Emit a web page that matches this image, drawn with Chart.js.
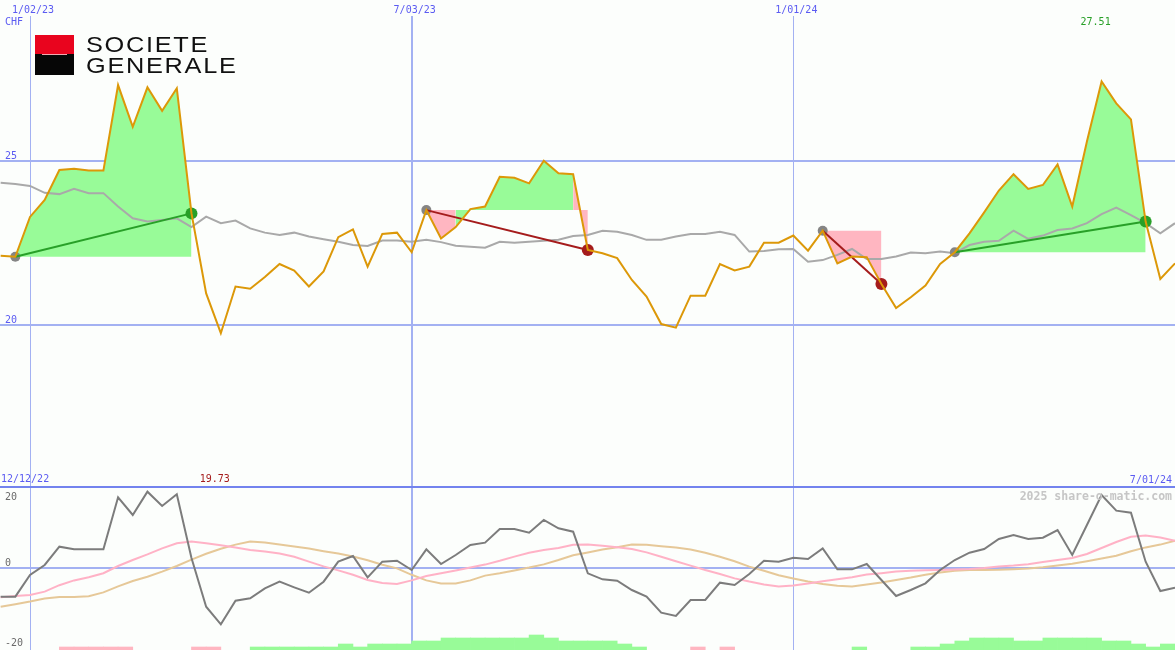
<!DOCTYPE html>
<html><head><meta charset="utf-8">
<script src="https://cdn.jsdelivr.net/npm/chart.js@4.4.1/dist/chart.umd.min.js"></script>
<style>
html,body{margin:0;padding:0;background:#fcfefc;}
#wrap{position:relative;width:1175px;height:650px;overflow:hidden;background:#fcfefc;}
#c{position:absolute;left:0;top:0;}
#logo{position:absolute;left:35px;top:35px;width:39px;height:40px;z-index:2;}
#logo .r{position:absolute;left:0;top:0;width:39px;height:19px;background:#e9041e;}
#logo .b{position:absolute;left:0;top:19px;width:39px;height:21px;background:#060606;}
#logo .l{position:absolute;left:7px;top:19px;width:25px;height:1px;background:#f2a8b0;}
.lt{position:absolute;left:86px;font-family:'Liberation Sans',Arial,sans-serif;font-size:22px;letter-spacing:1.5px;color:#111;line-height:22px;white-space:nowrap;z-index:2;transform:scaleX(1.15);transform-origin:0 0;}
</style>
</head><body>
<div id="wrap">
<canvas id="c" width="1175" height="650"></canvas>
<div id="logo"><div class="r"></div><div class="b"></div><div class="l"></div></div>
<div class="lt" style="top:34px">SOCIETE</div>
<div class="lt" style="top:55px">GENERALE</div>
</div>
<script>
// ---- data (weekly, index 0 = week of 12/19/22, index 80 = week of 7/01/24) ----
const price = [22.11,22.08,23.30,23.82,24.74,24.78,24.72,24.72,27.34,26.06,
27.27,26.55,27.24,23.41,20.96,19.74,21.17,21.10,21.46,21.86,
21.66,21.17,21.63,22.68,22.92,21.78,22.78,22.82,22.22,23.51,
22.64,22.99,23.54,23.62,24.53,24.50,24.33,25.02,24.64,24.61,
22.29,22.19,22.04,21.37,20.86,20.02,19.91,20.89,20.89,21.86,
21.66,21.78,22.51,22.51,22.73,22.27,22.88,21.88,22.09,22.07,
21.25,20.51,20.84,21.20,21.86,22.22,22.80,23.44,24.11,24.61,
24.16,24.28,24.91,23.62,25.61,27.45,26.78,26.29,23.16,21.40,21.88];
const avgLine = [24.35,24.31,24.25,24.04,24.00,24.16,24.03,24.03,23.62,23.26,
23.16,23.21,23.26,22.99,23.31,23.11,23.19,22.95,22.82,22.75,
22.82,22.70,22.62,22.54,22.44,22.41,22.58,22.58,22.54,22.60,
22.53,22.42,22.39,22.36,22.54,22.51,22.54,22.57,22.60,22.72,
22.75,22.88,22.85,22.75,22.60,22.60,22.70,22.78,22.78,22.85,
22.75,22.24,22.26,22.31,22.32,21.93,21.98,22.14,22.32,22.01,
22.01,22.09,22.21,22.19,22.24,22.19,22.44,22.54,22.57,22.88,
22.63,22.73,22.90,22.95,23.11,23.39,23.59,23.36,23.11,22.80,23.11];
const oscillator = [-7.17,-7.17,-1.75,0.75,5.33,4.67,4.67,4.67,17.67,13.25,
19.08,15.5,18.42,2.5,-9.67,-14.08,-8.17,-7.58,-5.08,-3.42,
-4.83,-6.17,-3.42,1.58,3.0,-2.33,1.58,1.83,-0.5,4.67,
1.0,3.25,5.75,6.33,9.75,9.75,8.83,12.0,9.92,9.08,
-1.33,-2.83,-3.17,-5.5,-7.17,-11.17,-12.0,-8.0,-8.0,-3.67,
-4.25,-1.5,1.83,1.58,2.58,2.25,4.92,-0.33,-0.33,1.0,
-3.0,-7.0,-5.5,-3.83,-0.5,2.0,3.83,4.75,7.25,8.25,
7.25,7.58,9.5,3.25,10.75,18.25,14.33,13.83,1.58,-5.75,-4.92];
const oscFast = [-7.3,-7.0,-6.75,-5.9,-4.3,-3.1,-2.3,-1.3,0.5,2.0,
3.4,4.9,6.2,6.6,6.2,5.7,5.1,4.5,4.1,3.6,
2.8,1.6,0.4,-0.6,-1.7,-3.0,-3.75,-4.0,-3.1,-2.0,
-1.3,-0.6,0.1,0.85,1.8,2.85,3.8,4.5,5.0,5.8,
5.85,5.55,5.2,4.75,3.9,2.8,1.7,0.6,-0.5,-1.5,
-2.6,-3.4,-4.1,-4.6,-4.4,-3.9,-3.3,-2.8,-2.3,-1.65,
-1.3,-0.9,-0.7,-0.55,-0.5,-0.4,-0.25,0.0,0.35,0.6,
0.95,1.5,2.0,2.5,3.5,5.0,6.5,7.8,8.1,7.6,6.8];
const oscSlow = [-9.7,-9.05,-8.4,-7.65,-7.25,-7.25,-7.05,-6.1,-4.6,-3.25,
-2.2,-0.9,0.5,2.1,3.55,4.8,5.85,6.6,6.35,5.9,
5.4,4.85,4.2,3.6,2.85,1.95,0.8,-0.1,-1.7,-3.1,
-3.9,-3.85,-3.1,-1.9,-1.3,-0.6,0.1,0.9,2.0,3.2,
3.9,4.6,5.2,5.9,5.8,5.45,5.1,4.6,3.8,2.8,
1.7,0.35,-0.7,-1.8,-2.6,-3.4,-4.0,-4.45,-4.6,-4.15,
-3.65,-3.0,-2.4,-1.7,-1.1,-0.7,-0.5,-0.5,-0.45,-0.3,
-0.1,0.2,0.6,1.05,1.7,2.4,3.05,4.2,5.15,5.85,6.8];
// histogram per week interval k (between week k and k+1), in lower-panel units
const histogram = [0,0,0,0,-0.75,-0.75,-0.75,-0.75,-0.75,0,
0,0,0,-0.75,-0.75,0,0,0.75,0.75,0.75,
0.75,0.75,0.75,1.5,0.75,1.5,1.5,1.5,2.25,2.25,
3,3,3,3,3,3,3.75,3,2.25,2.25,
2.25,2.25,1.5,0.75,0,0,0,-0.75,0,-0.75,
0,0,0,0,0,0,0,0,0.75,0,
0,0,0.75,0.75,1.5,2.25,3,3,3,2.25,
2.25,3,3,3,3,2.25,2.25,1.5,0.75,1.5];
// trades (week indices)
const tradeEntry = [1, 29, 56, 65];
const tradeExit  = [13, 40, 60, 78];
// axis / label data
const gridWeeks  = [2, 28, 54];
const gridLabels = ['1/02/23', '7/03/23', '1/01/24'];
const rangeLabels = ['12/12/22', '7/01/24'];
const topTicks = [20, 25];
const botTicks = [-20, 0, 20];
const unitLabel = 'CHF';
const hiLabel = '27.51';
const loLabel = '19.73';
const watermark = '2025 share-o-matic.com';

// ---- scales ----
const X_MIN = -0.044, X_MAX = 80.0;
const TOP_MIN = 15.03, TOP_MAX = 29.455;
const BOT_MIN = -20.5, BOT_MAX = 20.25;

const C_PRICE = '#dc9808', C_AVG = '#a9a9a9', C_GREEN_FILL = '#98fb98', C_PINK_FILL = '#ffb6c1';
const C_WIN = '#28a028', C_LOSS = '#a51c1c', C_MARK = '#858585';
const C_GRID = '#a3b1f2', C_SEP = '#7383ee', C_TXT = '#5b5bf2';
const C_OSC = '#7c7c7c', C_FAST = '#ffb2c6', C_SLOW = '#e6c898';

const pts = arr => arr.map((v, i) => ({x: i, y: v}));
const datasets = [];

datasets.push({
  type: 'bar', yAxisID: 'yBot', xAxisID: 'x', order: 30,
  data: histogram.map((h, k) => ({x: k + 0.5, y: [BOT_MIN, BOT_MIN + Math.abs(h)], h})).filter(d => d.h !== 0),
  backgroundColor: ctx => (ctx.raw && ctx.raw.h > 0) ? C_GREEN_FILL : C_PINK_FILL,
  borderWidth: 0, barPercentage: 1, categoryPercentage: 1, grouped: false
});

tradeEntry.forEach((e, n) => {
  const x = tradeExit[n], ev = price[e];
  datasets.push({
    type: 'line', yAxisID: 'yTop', order: 25,
    data: price.slice(e, x + 1).map((v, j) => ({x: e + j, y: v})),
    borderWidth: 0, borderColor: 'rgba(0,0,0,0)', pointRadius: 0,
    fill: {value: ev}, backgroundColor: C_GREEN_FILL,
    segment: {backgroundColor: c => c.p1.parsed.y >= ev ? C_GREEN_FILL : C_PINK_FILL}
  });
});

datasets.push({type: 'line', yAxisID: 'yTop', order: 20, data: pts(avgLine), borderColor: C_AVG, borderWidth: 2, pointRadius: 0, fill: false});

datasets.push({
  type: 'line', yAxisID: 'yTop', order: 18, showLine: false, fill: false,
  data: tradeEntry.map(e => ({x: e, y: price[e]})),
  pointRadius: 5, pointBackgroundColor: C_MARK, pointBorderWidth: 0
});
datasets.push({
  type: 'line', yAxisID: 'yTop', order: 17, showLine: false, fill: false,
  data: tradeExit.map(x => ({x, y: price[x]})),
  pointRadius: 6, pointBorderWidth: 0,
  pointBackgroundColor: tradeExit.map((x, n) => price[x] >= price[tradeEntry[n]] ? C_WIN : C_LOSS)
});
tradeEntry.forEach((e, n) => {
  const x = tradeExit[n];
  datasets.push({
    type: 'line', yAxisID: 'yTop', order: 16, fill: false, pointRadius: 0,
    data: [{x: e, y: price[e]}, {x, y: price[x]}],
    borderColor: price[x] >= price[e] ? C_WIN : C_LOSS, borderWidth: 2
  });
});
datasets.push({type: 'line', yAxisID: 'yTop', order: 10, data: pts(price), borderColor: C_PRICE, borderWidth: 2, pointRadius: 0, fill: false});

datasets.push({type: 'line', yAxisID: 'yBot', order: 9, data: pts(oscSlow), borderColor: C_SLOW, borderWidth: 2, pointRadius: 0, fill: false});
datasets.push({type: 'line', yAxisID: 'yBot', order: 8, data: pts(oscFast), borderColor: C_FAST, borderWidth: 2, pointRadius: 0, fill: false});
datasets.push({type: 'line', yAxisID: 'yBot', order: 7, data: pts(oscillator), borderColor: C_OSC, borderWidth: 2, pointRadius: 0, fill: false});

const FONT = '10px "DejaVu Sans Mono", monospace';
const labelPlugin = {
  id: 'labels',
  afterDraw(chart) {
    const {ctx} = chart;
    const sx = chart.scales.x, st = chart.scales.yTop, sb = chart.scales.yBot;
    ctx.save();
    ctx.font = FONT;
    ctx.textBaseline = 'alphabetic';
    ctx.fillStyle = C_TXT;
    ctx.textAlign = 'center';
    gridWeeks.forEach((w, k) => ctx.fillText(gridLabels[k], sx.getPixelForValue(w) + 3, st.top - 3));
    ctx.textAlign = 'left';
    ctx.fillText(unitLabel, 5, st.top + 9);
    topTicks.forEach(v => ctx.fillText(String(v), 5, st.getPixelForValue(v) - 2));
    ctx.fillText(rangeLabels[0], 1, sb.top - 5);
    ctx.textAlign = 'right';
    ctx.fillText(rangeLabels[1], sx.right - 3, sb.top - 4);
    // extremes
    const hiIdx = price.indexOf(Math.max(...price));
    const loIdx = price.indexOf(Math.min(...price));
    ctx.textAlign = 'center';
    ctx.fillStyle = C_WIN;
    ctx.fillText(hiLabel, sx.getPixelForValue(hiIdx) - 6, st.top + 9);
    ctx.fillStyle = C_LOSS;
    ctx.fillText(loLabel, sx.getPixelForValue(loIdx) - 6, sb.top - 5);
    // lower panel ticks
    ctx.textAlign = 'left';
    ctx.fillStyle = '#6a6a6a';
    botTicks.forEach(v => {
      const y = Math.min(Math.max(sb.getPixelForValue(v) - 2.5, sb.top + 13), sb.bottom - 4);
      ctx.fillText(String(v), 5, y);
    });
    ctx.font = 'bold 11.5px "DejaVu Sans Mono", monospace';
    ctx.fillStyle = '#c6c6c6';
    ctx.textAlign = 'right';
    ctx.fillText(watermark, sx.right - 3, sb.top + 13);
    ctx.restore();
  }
};

new Chart(document.getElementById('c'), {
  type: 'line',
  data: {datasets},
  options: {
    responsive: false, animation: false, devicePixelRatio: 1, events: [],
    layout: {autoPadding: false, padding: {top: 16, left: 0, right: 0, bottom: 0}},
    plugins: {legend: {display: false}, tooltip: {enabled: false}},
    elements: {line: {tension: 0}},
    scales: {
      x: {
        type: 'linear', position: 'bottom', min: X_MIN, max: X_MAX, offset: false,
        afterBuildTicks: s => { s.ticks = gridWeeks.map(v => ({value: v})); },
        ticks: {display: false},
        border: {display: false},
        grid: {offset: false, drawTicks: false, color: C_GRID, lineWidth: c => (c.tick && c.tick.value === gridWeeks[1]) ? 2 : 1}
      },
      yTop: {
        type: 'linear', position: 'left', stack: 'panels', stackWeight: 471, weight: 2,
        min: TOP_MIN, max: TOP_MAX,
        afterBuildTicks: s => { s.ticks = topTicks.map(v => ({value: v})); },
        ticks: {display: false}, border: {display: false},
        grid: {drawTicks: false, color: C_GRID, lineWidth: 2}
      },
      yBot: {
        type: 'linear', position: 'left', stack: 'panels', stackWeight: 163, weight: 1,
        min: BOT_MIN, max: BOT_MAX,
        afterBuildTicks: s => { s.ticks = [0, BOT_MAX].map(v => ({value: v})); },
        ticks: {display: false}, border: {display: false},
        grid: {drawTicks: false, lineWidth: 2, color: c => (c.tick && c.tick.value === BOT_MAX) ? C_SEP : C_GRID}
      }
    }
  },
  plugins: [labelPlugin]
});
</script>
</body></html>
